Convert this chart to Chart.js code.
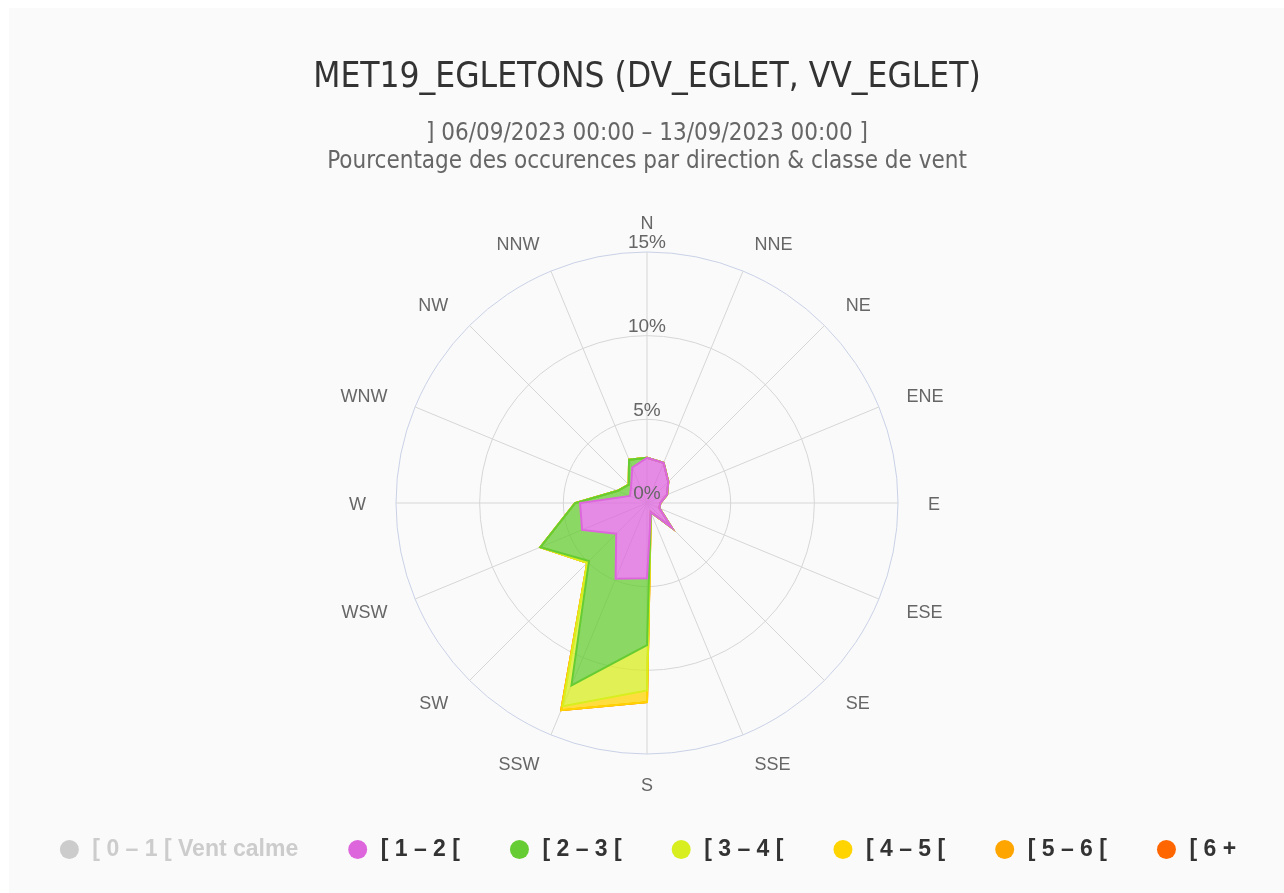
<!DOCTYPE html>
<html>
<head>
<meta charset="utf-8">
<script src="https://cdn.jsdelivr.net/npm/chart.js@4.4.1/dist/chart.umd.min.js"></script>
<style>
  html, body { margin: 0; padding: 0; background: #ffffff; overflow: hidden; width: 1284px; height: 893px; }
  #card { position: absolute; left: 9px; top: 8px; width: 1275px; height: 885px; background: #fafafa; }
  #wrap { position: absolute; left: 0; top: 8px; width: 1294px; height: 863px; }
</style>
</head>
<body>
<div id="card"></div>
<div id="wrap"><canvas id="c"></canvas></div>
<script>
// ---- data ----
const directions = ['N','NNE','NE','ENE','E','ESE','SE','SSE','S','SSW','SW','WSW','W','WNW','NW','NNW'];
const classLabels = ['[ 0 – 1 [ Vent calme', '[ 1 – 2 [', '[ 2 – 3 [', '[ 3 – 4 [', '[ 4 – 5 [', '[ 5 – 6 [', '[ 6 +'];
const class01 = [0, 0, 0, 0, 0, 0, 0, 0, 0, 0, 0, 0, 0, 0, 0, 0];
const class12 = [2.7, 2.6, 1.8, 1.3, 0.8, 0.8, 2.1, 0.6, 4.5, 4.9, 2.6, 4.2, 4.0, 1.1, 1.35, 2.3];
const class23 = [0, 0, 0, 0, 0, 0, 0, 0, 4.0, 6.9, 2.3, 2.7, 0.3, 0.8, 0.2, 0.5];
const class34 = [0, 0, 0, 0, 0, 0, 0, 0, 2.7, 1.35, 0.15, 0, 0, 0, 0, 0];
const class45 = [0, 0, 0, 0, 0, 0, 0, 0, 0.7, 0.25, 0, 0, 0, 0, 0, 0];
const class56 = [0, 0, 0, 0, 0, 0, 0, 0, 0, 0, 0, 0, 0, 0, 0, 0];
const class6p = [0, 0, 0, 0, 0, 0, 0, 0, 0, 0, 0, 0, 0, 0, 0, 0];
const tickValues = [0, 5, 10, 15];
const tickLabels = ['0%', '5%', '10%', '15%'];
const titleText = 'MET19_EGLETONS (DV_EGLET, VV_EGLET)';
const subtitleLines = ['] 06/09/2023 00:00 – 13/09/2023 00:00 ]', 'Pourcentage des occurences par direction & classe de vent'];

// ---- styles ----
const colors = ['#cccccc', '#dd66dd', '#66cc33', '#d8ee1e', '#ffd400', '#ffa500', '#ff6600'];
const fills  = ['rgba(204,204,204,0.75)', 'rgba(221,102,221,0.75)', 'rgba(102,204,51,0.75)', 'rgba(216,238,30,0.75)', 'rgba(255,212,0,0.75)', 'rgba(255,165,0,0.75)', 'rgba(255,102,0,0.75)'];
const FONT = '"Liberation Sans", Arial, sans-serif';
const COND = '"DejaVu Sans Condensed", "Liberation Sans Narrow", "DejaVu Sans", sans-serif';

// stacked (cumulative) values built from the class arrays
const classes = [class01, class12, class23, class34, class45, class56, class6p];
const running = directions.map(() => 0);
const datasets = classes.map((arr, i) => {
  let data;
  if (i === 0) {
    data = arr.slice();
  } else {
    for (let k = 0; k < arr.length; k++) running[k] += arr[k];
    data = running.slice();
  }
  return {
    label: classLabels[i],
    data: data,
    hidden: i === 0,
    borderColor: colors[i],
    backgroundColor: fills[i],
    borderWidth: 2,
    pointRadius: 0,
    pointHoverRadius: 0,
    tension: 0,
    fill: i === 1 ? 'origin' : '-1'
  };
});

// tick values and direction labels, placed with the radial scale's geometry
const labelPlugin = {
  id: 'radialText',
  afterDatasetsDraw(chart) {
    const s = chart.scales.r;
    const ctx = chart.ctx;
    ctx.save();
    ctx.fillStyle = '#666666';
    ctx.textBaseline = 'middle';
    // direction labels
    ctx.font = '18px ' + FONT;
    chart.data.labels.forEach((lab, i) => {
      const p = s.getPointPosition(i, s.drawingArea + 30);
      const dx = p.x - s.xCenter;
      ctx.textAlign = Math.abs(dx) < 1 ? 'center' : (dx > 0 ? 'left' : 'right');
      ctx.fillText(lab, p.x, p.y + 2);
    });
    // tick labels
    ctx.font = '19px ' + FONT;
    ctx.textAlign = 'center';
    s.ticks.forEach((t) => {
      const idx = tickValues.indexOf(t.value);
      const label = idx >= 0 ? tickLabels[idx] : (t.value + '%');
      const d = s.getDistanceFromCenterForValue(t.value);
      ctx.fillText(label, s.xCenter, s.yCenter - d - 9);
    });
    ctx.restore();
  }
};

new Chart(document.getElementById('c'), {
  type: 'radar',
  data: { labels: directions, datasets: datasets },
  plugins: [labelPlugin],
  options: {
    responsive: true,
    maintainAspectRatio: false,
    animation: false,
    scales: {
      r: {
        min: 0,
        max: 15,
        ticks: { stepSize: 5, display: false },
        grid: {
          circular: true,
          lineWidth: 1,
          color: (ctx) => (ctx.tick && ctx.tick.value === 15 ? '#c9d1e6' : '#d6d6d6')
        },
        angleLines: { color: '#d6d6d6', lineWidth: 1 },
        pointLabels: { display: false }
      }
    },
    plugins: {
      tooltip: { enabled: false },
      title: {
        display: true,
        text: titleText,
        color: '#333333',
        font: { family: COND, size: 35, weight: 'normal', lineHeight: 1.2 },
        padding: { top: 49, bottom: 0 }
      },
      subtitle: {
        display: true,
        text: subtitleLines,
        color: '#666666',
        font: { family: COND, size: 24, weight: 'normal', lineHeight: 28 / 24 },
        padding: { top: 21, bottom: 76 }
      },
      legend: {
        position: 'bottom',
        title: {
          display: true,
          text: '',
          font: { size: 10, lineHeight: 1.25 },
          padding: { top: 23, bottom: 0 }
        },
        labels: {
          usePointStyle: true,
          boxWidth: 23,
          boxHeight: 13.4,
          padding: 48,
          color: '#333333',
          font: { family: FONT, size: 23, weight: 'bold' },
          generateLabels: (chart) => chart.data.datasets.map((ds, i) => ({
            text: ds.label,
            fillStyle: colors[i],
            strokeStyle: colors[i],
            lineWidth: 0,
            fontColor: i === 0 ? '#cccccc' : '#333333',
            hidden: false,
            pointStyle: 'circle',
            datasetIndex: i
          }))
        }
      }
    }
  }
});
</script>
</body>
</html>
